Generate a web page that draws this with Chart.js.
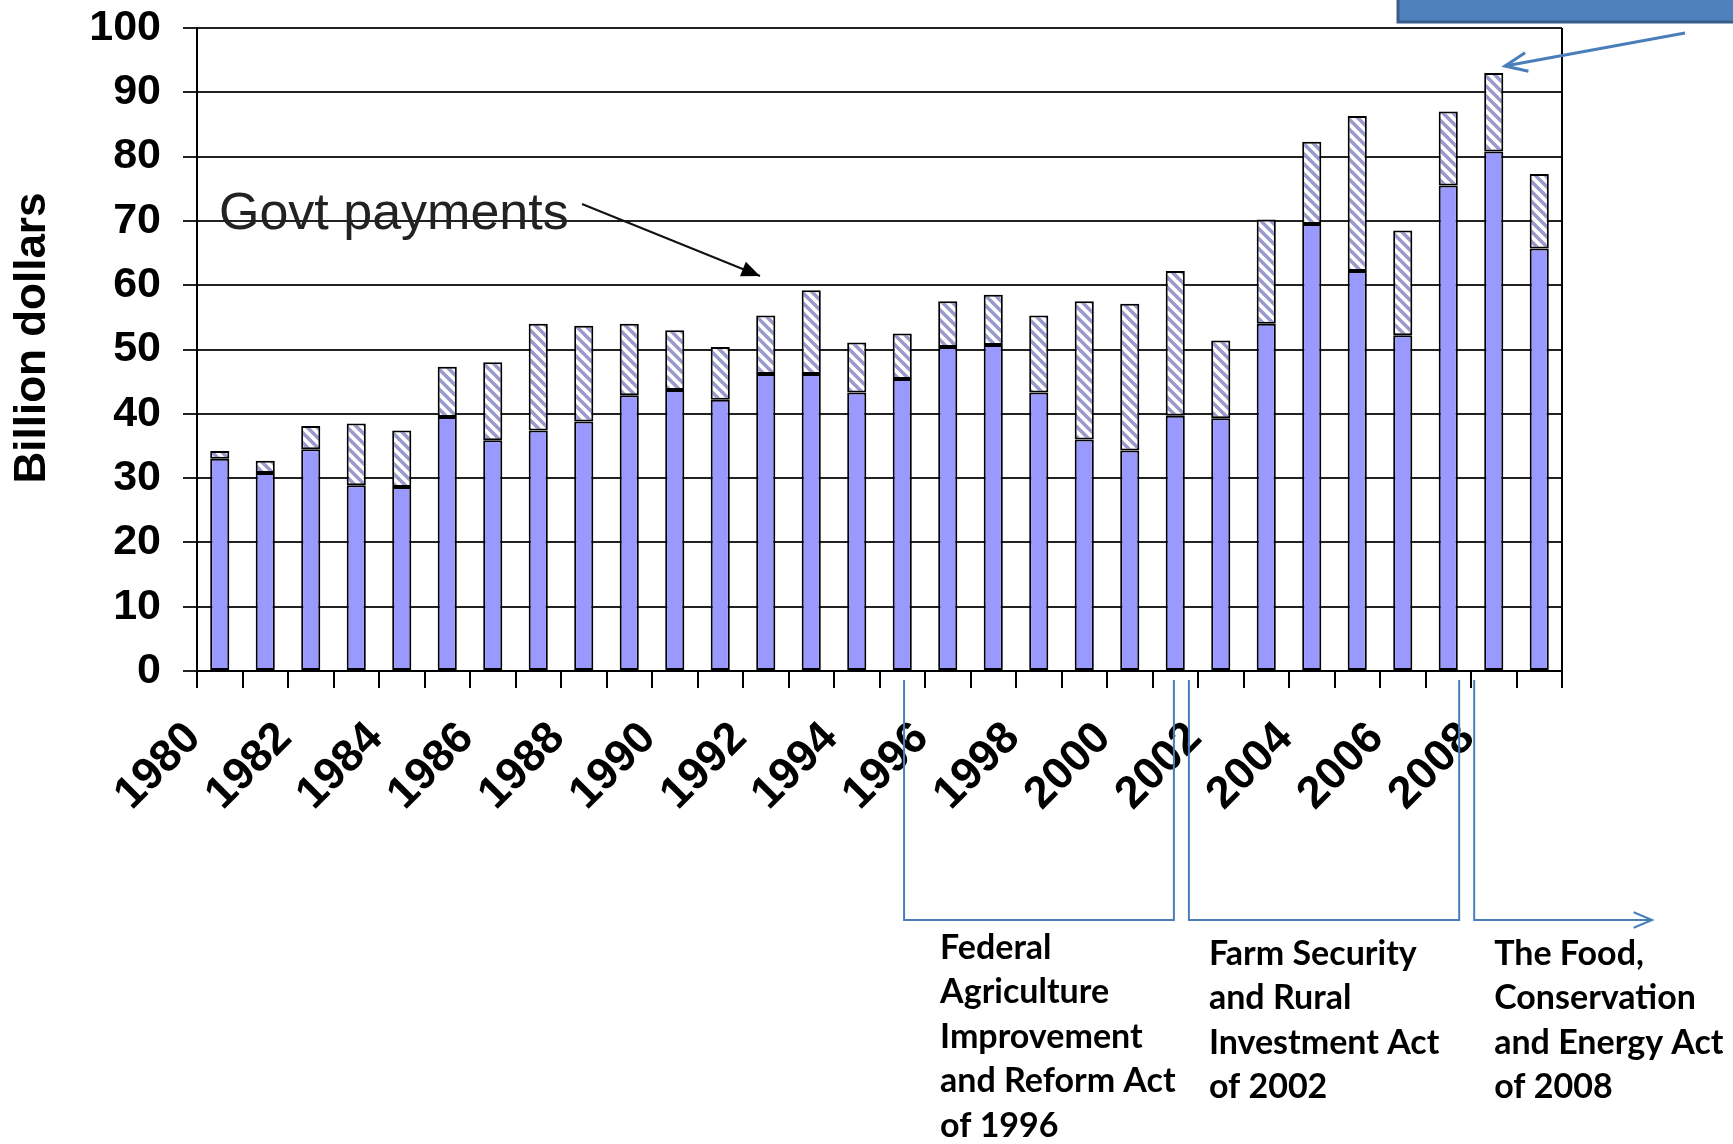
<!DOCTYPE html>
<html>
<head>
<meta charset="utf-8">
<script src="https://cdn.jsdelivr.net/npm/chart.js@4"></script>
<style>
  body { margin: 0; background: #fff; }
</style>
</head>
<body>
<canvas id="farmChart" width="1733" height="1144"></canvas>
<script>
const years = ["1980","1981","1982","1983","1984","1985","1986","1987","1988","1989",
    "1990","1991","1992","1993","1994","1995","1996","1997","1998","1999",
    "2000","2001","2002","2003","2004","2005","2006","2007","2008","2009"];

// income without govt payments (solid part)
const marketIncome = [33.0, 30.8, 34.5, 28.9, 28.6, 39.5, 35.9, 37.4, 38.8, 42.9,
    43.7, 42.2, 46.2, 46.2, 43.3, 45.4, 50.4, 50.7, 43.3, 36.0,
    34.3, 39.7, 39.3, 54.0, 69.5, 62.2, 52.2, 75.5, 80.8, 65.7];

// govt payments (hatched part on top)
const govtPayments = [1.2, 1.9, 3.6, 9.6, 8.8, 7.8, 12.1, 16.6, 14.9, 11.1,
    9.3, 8.2, 9.1, 13.0, 7.8, 7.1, 7.1, 7.8, 12.0, 21.5,
    22.8, 22.5, 12.1, 16.2, 12.8, 24.1, 16.3, 11.5, 12.2, 11.6];

const yTicks = [0, 10, 20, 30, 40, 50, 60, 70, 80, 90, 100];

const actLabels = [
    ["Federal", "Agriculture", "Improvement", "and Reform Act", "of 1996"],
    ["Farm Security", "and Rural", "Investment Act", "of 2002"],
    ["The Food,", "Conservation", "and Energy Act", "of 2008"]
];

// hatch fill
const tile = document.createElement("canvas");
tile.width = 10;
tile.height = 10;
const tctx = tile.getContext("2d");
tctx.fillStyle = "#ffffff";
tctx.fillRect(0, 0, 10, 10);
tctx.strokeStyle = "#9999cc";
tctx.lineWidth = 3.5;
[-10, 0, 10].forEach(k => {
    tctx.beginPath();
    tctx.moveTo(-1, -1 + k);
    tctx.lineTo(11, 11 + k);
    tctx.stroke();
});
const ctx = document.getElementById("farmChart");
const hatch = ctx.getContext("2d").createPattern(tile, "repeat");

const BLUE = "#4a7ebb";

function arrowHead(c, x1, y1, x2, y2, size, filled) {
    const a = Math.atan2(y2 - y1, x2 - x1);
    c.beginPath();
    c.moveTo(x2 - size * Math.cos(a - 0.4), y2 - size * Math.sin(a - 0.4));
    c.lineTo(x2, y2);
    c.lineTo(x2 - size * Math.cos(a + 0.4), y2 - size * Math.sin(a + 0.4));
    if (filled) {
        c.closePath();
        c.fill();
    } else {
        c.stroke();
    }
}

const annotations = {
    id: "annotations",
    afterDraw(chart) {
        const c = chart.ctx;
        const area = chart.chartArea;
        const xs = chart.scales.x;
        c.save();

        // right border of plot
        c.strokeStyle = "#000";
        c.lineWidth = 2;
        c.beginPath();
        c.moveTo(area.right, area.top);
        c.lineTo(area.right, area.bottom);
        c.stroke();

        // y axis title
        c.save();
        c.translate(33, 338);
        c.rotate(-Math.PI / 2);
        c.fillStyle = "#000";
        c.font = "bold 44px 'Liberation Sans', Arial";
        c.textAlign = "center";
        c.textBaseline = "middle";
        c.fillText("Billion dollars", 0, 0);
        c.restore();

        // Govt payments label + arrow
        c.fillStyle = "#222";
        c.font = "52px 'Liberation Sans', Arial";
        c.textBaseline = "middle";
        c.textAlign = "left";
        c.fillText("Govt payments", 219, 215);
        c.strokeStyle = "#111";
        c.lineWidth = 2;
        c.beginPath();
        c.moveTo(582, 204);
        c.lineTo(760, 276);
        c.stroke();
        c.fillStyle = "#000";
        arrowHead(c, 582, 204, 760, 276, 20, true);

        // cut off blue box top right
        c.fillStyle = "#4f81bd";
        c.strokeStyle = "#385d8a";
        c.lineWidth = 3;
        c.fillRect(1398, -5, 340, 27);
        c.strokeRect(1398, -5, 340, 27);

        // blue arrow to 2008 bar
        c.strokeStyle = BLUE;
        c.lineWidth = 3;
        c.beginPath();
        c.moveTo(1685, 33);
        c.lineTo(1505, 66);
        c.stroke();
        arrowHead(c, 1685, 33, 1505, 66, 24, false);

        // brackets under the axis
        const px = v => xs.getPixelForValue(v);
        const top = 680, bot = 920;
        const x1 = px(15.04), x2 = px(20.97), x3 = px(21.3), x4 = px(27.24), x5 = px(27.57), x6 = px(31.48);
        c.lineWidth = 2;
        c.beginPath();
        c.moveTo(x1, top); c.lineTo(x1, bot); c.lineTo(x2, bot); c.lineTo(x2, top);
        c.moveTo(x3, top); c.lineTo(x3, bot); c.lineTo(x4, bot); c.lineTo(x4, top);
        c.moveTo(x5, top); c.lineTo(x5, bot); c.lineTo(x6, bot);
        c.stroke();
        arrowHead(c, x5, bot, x6, bot, 20, false);

        // act names
        c.fillStyle = "#000";
        c.font = "bold 34px Lato";
        const lineH = 44.5;
        actLabels[0].forEach((t, i) => c.fillText(t, x1 + 36, 948 + i * lineH));
        actLabels[1].forEach((t, i) => c.fillText(t, x3 + 20, 954 + i * lineH));
        actLabels[2].forEach((t, i) => c.fillText(t, x5 + 20, 954 + i * lineH));

        c.restore();
    }
};

new Chart(ctx, {
    type: "bar",
    data: {
        labels: years,
        datasets: [{
            label: "Market income",
            data: marketIncome,
            backgroundColor: "#9999ff",
            borderColor: "#000",
            borderWidth: 2,
            borderSkipped: false,
            barPercentage: 0.42,
            categoryPercentage: 1
        }, {
            label: "Govt payments",
            data: govtPayments,
            backgroundColor: hatch,
            borderColor: "#000",
            borderWidth: 2,
            borderSkipped: false,
            barPercentage: 0.42,
            categoryPercentage: 1
        }]
    },
    options: {
        responsive: false,
        animation: false,
        layout: {
            padding: { left: 0, top: 28, right: 171, bottom: 0 }
        },
        plugins: {
            legend: { display: false },
            tooltip: { enabled: false }
        },
        scales: {
            x: {
                stacked: true,
                afterFit: scale => { scale.height = 473; },
                grid: {
                    offset: true,
                    drawOnChartArea: false,
                    drawTicks: true,
                    tickLength: 17,
                    color: "#000",
                    lineWidth: 2
                },
                border: { display: true, color: "#000", width: 2 },
                ticks: {
                    autoSkip: false,
                    minRotation: 45,
                    maxRotation: 45,
                    padding: 24,
                    labelOffset: -26,
                    color: "#000",
                    font: { family: "'Liberation Sans', Arial", size: 45, weight: "bold" },
                    callback: (v, i) => (i % 2 === 0 ? years[i] : "")
                }
            },
            y: {
                stacked: true,
                min: 0,
                max: 100,
                afterFit: scale => {
                    scale.width = 197;
                    scale.paddingTop = 0;
                    scale.paddingBottom = 0;
                },
                afterBuildTicks: scale => { scale.ticks = yTicks.map(v => ({ value: v })); },
                grid: {
                    color: "#222",
                    lineWidth: 2,
                    tickLength: 14
                },
                border: { display: true, color: "#000", width: 2 },
                ticks: {
                    padding: 22,
                    color: "#000",
                    font: { family: "'Liberation Sans', Arial", size: 43, weight: "bold" }
                }
            }
        }
    },
    plugins: [annotations]
});
</script>
</body>
</html>
